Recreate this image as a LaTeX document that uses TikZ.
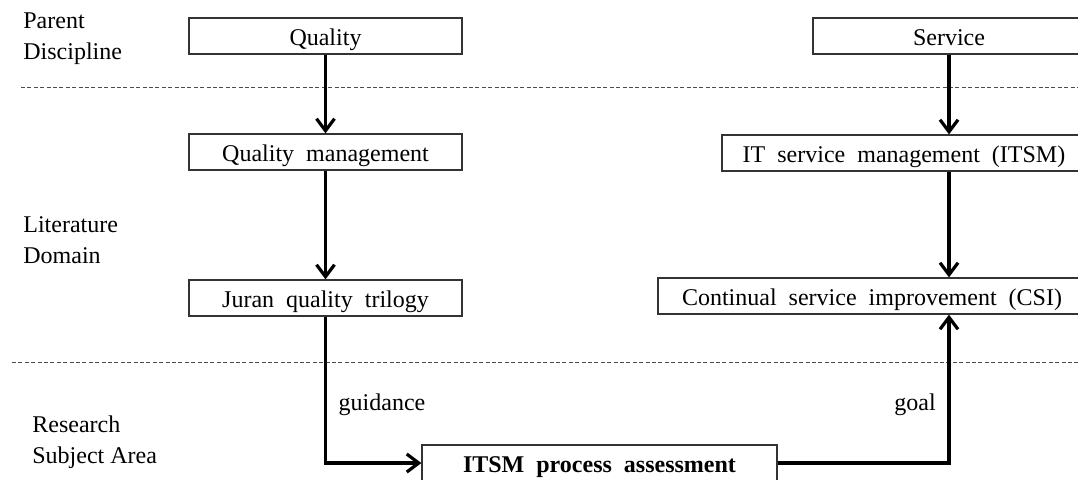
\documentclass[tikz,border=0pt]{standalone}
\usepackage{fontspec}
\setmainfont{Liberation Serif}
\usetikzlibrary{arrows.meta}
% box text: 12pt with widened inter-word spaces
\newcommand\boxtextfont{\fontsize{12}{14}\selectfont\spaceskip=0.5em plus 0.1em\relax}
\newcommand\boxboldfont{\fontsize{12}{14}\selectfont\bfseries\spaceskip=0.5em plus 0.1em\relax}
\begin{document}
\begin{tikzpicture}[x=0.5pt,y=-0.5pt,
  box/.style={draw=black!80, line width=0.6pt, minimum height=18pt,
    inner sep=0pt, text height=9.5pt, text depth=0.5pt, font=\boxtextfont},
  lab/.style={inner sep=0pt, align=left, anchor=base west,
    font=\fontsize{12}{15.5}\selectfont},
  note/.style={inner sep=0pt, anchor=base, font=\fontsize{12}{14}\selectfont},
  flow/.style={line width=1.6pt, -{Straight Barb[length=6pt,width=9pt,line width=1.6pt]}},
  sep/.style={draw=black!70, line width=0.5pt, dash pattern=on 2pt off 1.2pt}]
\clip (0,0) rectangle (1078,479);

% layer labels (anchored at the baseline of the last line)
\node[lab] (pd) at (23,59) {Parent\\Discipline};
\node[lab] (ld) at (23,263) {Literature\\Domain};
\node[lab] (rs) at (32,463) {Research\\Subject Area};

% layer separators
\draw[sep] (21,87) -- (1078,87);
\draw[sep] (12,362) -- (1078,362);

% quality column
\node[box, minimum width=136.5pt] (qual) at (325.5,36) {Quality};
\node[box, minimum width=136.5pt] (qm) at (325.5,152) {Quality management};
\node[box, minimum width=136.5pt] (jur) at (325.5,298) {Juran quality trilogy};

% service column
\node[box, minimum width=136pt] (serv) at (949,36) {Service};
\node[box, minimum width=182pt] (itsm) at (904,153) {IT service management (ITSM)};
\node[box, minimum width=214pt] (csi) at (872,296) {Continual service improvement (CSI)};

% research subject
\node[box, minimum width=177.5pt, font=\boxboldfont] (proc) at (599.5,463) {ITSM process assessment};

% connectors
\draw[flow] (qual.south) -- (qm.north);
\draw[flow] (qm.south) -- (jur.north);
\draw[flow] (serv.south) -- (serv.south |- itsm.north);
\draw[flow] (serv.south |- itsm.south) -- (serv.south |- csi.north);
\draw[flow] (jur.south) |- (proc.west);
\draw[flow] (proc.east) -| (serv.south |- csi.south);

% connector labels
\node[note] (gd) at (382,410) {guidance};
\node[note] (gl) at (915,410) {goal};
\end{tikzpicture}
\end{document}
